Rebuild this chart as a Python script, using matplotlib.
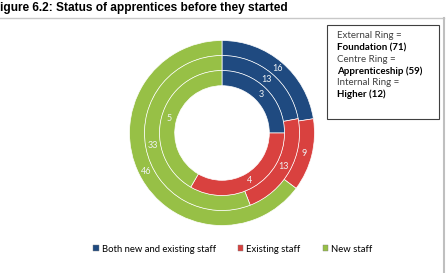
import matplotlib
matplotlib.use("Agg")
import matplotlib.pyplot as plt
from matplotlib.patches import Patch, Rectangle
from matplotlib.lines import Line2D

# data (clockwise from 12 o'clock)
categories = ["Both new and existing staff", "Existing staff", "New staff"]
foundation = [16, 9, 46]       # external ring
apprenticeship = [13, 13, 33]  # centre ring
higher = [3, 4, 5]             # internal ring

colors = ["#1f4a80", "#d9413f", "#97c046"]
W, H = 447, 273

fig = plt.figure(figsize=(W / 100, H / 100), dpi=100)

# title (first letter cut off in the source)
fig.text(0, 1 - 8 / H, "igure 6.2: Status of apprentices before they started",
         fontsize=8.6, fontweight="bold", family="Liberation Sans",
         ha="left", va="center")

# chart border (top and right visible)
fig.add_artist(Line2D([0, 444 / W], [1 - 18 / H, 1 - 18 / H],
                      color="#c8c8c8", lw=1, transform=fig.transFigure))
fig.add_artist(Line2D([444 / W, 444 / W], [1 - 18 / H, 0],
                      color="#bfbfbf", lw=1.5, transform=fig.transFigure))

# donut axes: 1 data unit = 100 px, centre at (222,133)
cx, cy = 222, 133
ax = fig.add_axes([(cx - 100) / W, (H - cy - 100) / H, 200 / W, 200 / H])
ax.axis("off")

rings = [(foundation, 0.925), (apprenticeship, 0.775), (higher, 0.625)]
width = 0.152
for vals, r in rings:
    tot = sum(vals)
    ax.pie(vals, radius=r, colors=colors, startangle=90, counterclock=False,
           wedgeprops=dict(width=width, edgecolor="white", linewidth=0.5),
           autopct=lambda p, t=tot: f"{round(p * t / 100)}",
           pctdistance=(r - width / 2) / r,
           textprops=dict(color="#eef2f4", fontsize=6.5, family="Lato"))
ax.set_xlim(-1, 1)
ax.set_ylim(-1, 1)
ax.set_aspect("auto")

# info box
bx0, bx1, by0, by1 = 327, 439, 25, 119
fig.add_artist(Rectangle((bx0 / W, 1 - by1 / H), (bx1 - bx0) / W, (by1 - by0) / H,
                         transform=fig.transFigure, fill=False,
                         edgecolor="#404040", lw=0.8))
box_lines = [("External Ring =", "normal"), ("Foundation (71)", "bold"),
             ("Centre Ring =", "normal"), ("Apprenticeship (59)", "bold"),
             ("Internal Ring =", "normal"), ("Higher (12)", "bold")]
for i, (txt, wt) in enumerate(box_lines):
    fig.text(337 / W, 1 - (36 + i * 11.6) / H, txt, fontsize=7,
             fontweight=wt, family="Lato", ha="left", va="center",
             color="#404040" if wt == "normal" else "black")

# legend
handles = [Patch(facecolor=c, edgecolor="#808080", lw=0.3) for c in colors]
fig.legend(handles, categories, loc="center", ncol=3,
           bbox_to_anchor=(233 / W, 1 - 249 / H), frameon=False,
           prop=dict(family="Lato", size=6.8), handlelength=0.55, handleheight=0.55,
           handletextpad=0.3, columnspacing=2.4)

fig.savefig("out.png", dpi=100)
